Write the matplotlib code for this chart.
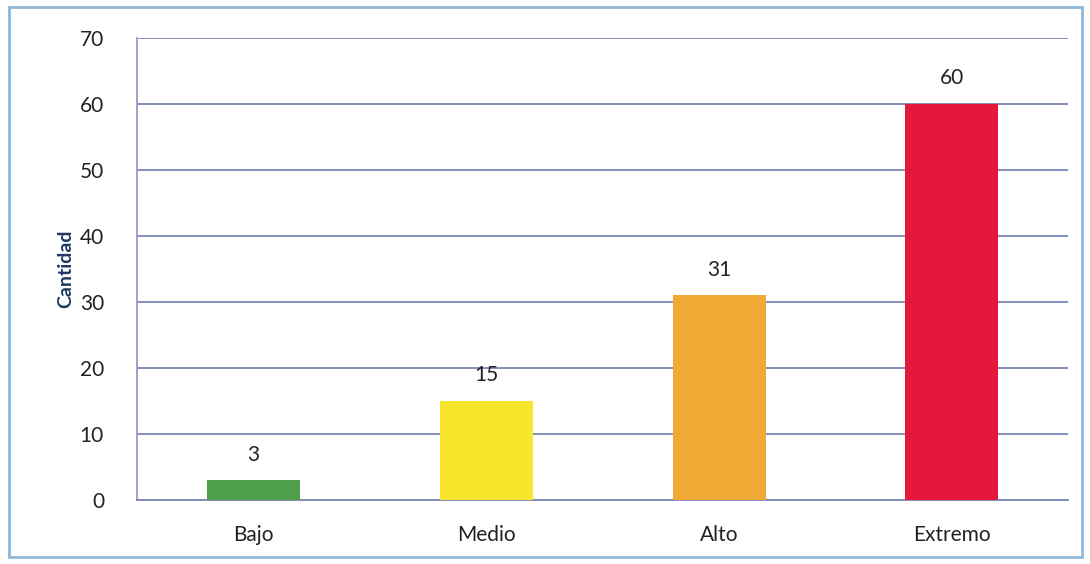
"""Bar chart: cantidad por nivel (Bajo, Medio, Alto, Extremo)."""

import matplotlib
matplotlib.use("Agg")
import matplotlib.pyplot as plt
from matplotlib.patches import Rectangle

niveles = ["Bajo", "Medio", "Alto", "Extremo"]
cantidades = [3, 15, 31, 60]
colores = ["#4f9e4a", "#f7e62c", "#f0a934", "#e5173a"]
y_ticks = [0, 10, 20, 30, 40, 50, 60, 70]

plt.rcParams["font.family"] = ["Lato", "DejaVu Sans"]

fig = plt.figure(figsize=(10.9, 5.64), dpi=100)
fig.patch.set_facecolor("white")
# marco exterior del grafico
fig.patches.append(Rectangle((0.008, 0.012), 0.985, 0.975, transform=fig.transFigure,
                             fill=False, edgecolor="#8fb8d8", linewidth=2.0))

ax = fig.add_axes([0.126, 0.113, 0.854, 0.82])
ax.set_xlim(-0.5, 3.5)
ax.set_ylim(0, 70)

x = range(len(niveles))
ax.bar(x, cantidades, width=0.4, color=colores, zorder=3)
for xi, v in zip(x, cantidades):
    ax.text(xi, v + 2.4, str(v), ha="center", va="bottom", fontsize=15, color="#222222")

ax.set_yticks(y_ticks)
ax.set_xticks(list(x))
ax.set_xticklabels(niveles)
ax.tick_params(axis="both", length=0, labelsize=15, colors="#222222")
ax.tick_params(axis="y", pad=24)
ax.tick_params(axis="x", pad=18)
ax.yaxis.grid(True, color="#7b86b8", linewidth=1.3, zorder=0)
ax.set_axisbelow(True)

for side in ["top", "right"]:
    ax.spines[side].set_visible(False)
ax.spines["left"].set_color("#9a9ac8")
ax.spines["bottom"].set_color("#7b86b8")
ax.spines["left"].set_linewidth(1.3)
ax.spines["bottom"].set_linewidth(1.3)

ax.set_ylabel("Cantidad", fontsize=14, fontweight="bold", color="#1f3864", labelpad=4)

fig.savefig("out.png", dpi=100)
